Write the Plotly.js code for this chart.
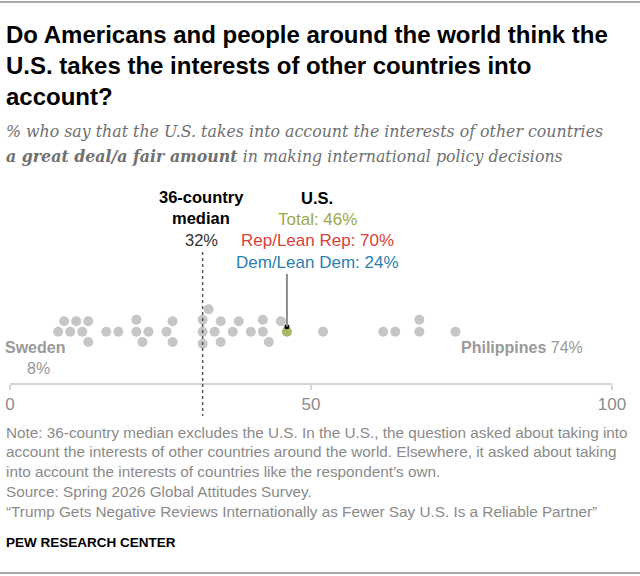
<!DOCTYPE html>
<html>
<head>
<meta charset="utf-8">
<script src="https://cdn.plot.ly/plotly-3.0.1.min.js"></script>
<style>
  body { margin: 0; background: #fff; }
  #chart { width: 640px; height: 576px; }
</style>
</head>
<body>
<div id="chart"></div>
<script>
// share saying the U.S. takes their interests into account, 36 countries
var countryValues = [8, 9, 10, 11, 12, 13, 13, 16, 18, 21, 21, 22, 23, 26, 27, 27,
                     32, 32, 32, 33, 34, 35, 35, 37, 38, 40, 42, 42, 43, 45,
                     52, 62, 64, 68, 68, 74];
var labelNames = ['Sweden', 'Philippines'];
var labelValues = [8, 74];
var usGroups = ['Total', 'Rep/Lean Rep', 'Dem/Lean Dem'];
var usValues = [46, 70, 24];
var tickValues = [0, 50, 100];

// pixel frame of the plot area
var plotLeft = 10, plotRight = 612, plotTop = 290, plotBottom = 383, baseY = 331.7;
var pxPerUnit = (plotRight - plotLeft) / 100;
function px(x) { return (x - plotLeft) / (plotRight - plotLeft); }
function py(y) { return (plotBottom - y) / (plotBottom - plotTop); }

function median(arr) {
    var s = arr.slice().sort(function(a, b) { return a - b; });
    var m = Math.floor(s.length / 2);
    return s.length % 2 ? s[m] : (s[m - 1] + s[m]) / 2;
}

// simple greedy beeswarm, offsets in pixels (up = positive)
function swarm(fixed, vals, d) {
    var placed = fixed.map(function(v) { return {x: v * pxPerUnit, y: 0}; });
    var order = vals.map(function(v, i) { return i; }).sort(function(a, b) { return vals[a] - vals[b]; });
    var ys = new Array(vals.length);
    for (var i of order) {
        var x = vals[i] * pxPerUnit;
        var near = placed.filter(function(p) { return Math.abs(p.x - x) < d; });
        var cands = [0];
        near.forEach(function(p) {
            var dy = Math.sqrt(d * d - (p.x - x) * (p.x - x));
            cands.push(p.y + dy, p.y - dy);
        });
        cands.sort(function(a, b) { return Math.abs(a) - Math.abs(b) || b - a; });
        var y = cands.find(function(c) {
            return near.every(function(p) { return (p.x - x) * (p.x - x) + (p.y - c) * (p.y - c) >= d * d - 1e-6; });
        });
        placed.push({x: x, y: y});
        ys[i] = y;
    }
    return ys;
}

var usTotal = usValues[0];
var med = median(countryValues);
var offsets = swarm([usTotal], countryValues, 12);

var grey = '#c6c6c6';
var labelFont = '"Liberation Sans", Arial, sans-serif';
var serifFont = '"DejaVu Serif", Georgia, serif';

var traces = [
    {
        x: countryValues, y: offsets, type: 'scatter', mode: 'markers',
        marker: {size: 10, color: grey}, hoverinfo: 'x'
    },
    {
        x: [usTotal], y: [0], type: 'scatter', mode: 'markers',
        marker: {size: 10, color: '#a9b567'}, hoverinfo: 'x'
    },
    {
        x: [usTotal], y: [5], type: 'scatter', mode: 'markers',
        marker: {size: 5, color: '#000'}, hoverinfo: 'skip'
    }
];

var yRange = [-(plotBottom - baseY), baseY - plotTop];
function yPaper(off) { return (off - yRange[0]) / (yRange[1] - yRange[0]); }

var shapes = [
    {type: 'line', xref: 'paper', yref: 'paper', x0: px(0), x1: px(640), y0: py(2), y1: py(2),
     line: {color: '#8a8a8a', width: 1.5}},
    {type: 'line', xref: 'paper', yref: 'paper', x0: px(0), x1: px(640), y0: py(573), y1: py(573),
     line: {color: '#8a8a8a', width: 1.5}},
    {type: 'line', xref: 'x', yref: 'paper', x0: med, x1: med, y0: py(252), y1: py(416),
     line: {color: '#555', width: 1.5, dash: 'dot'}},
    {type: 'line', xref: 'x', yref: 'paper', x0: usTotal, x1: usTotal, y0: py(274), y1: yPaper(5),
     line: {color: '#8c8c8c', width: 2}}
];

function ann(text, x, y, opts) {
    var a = {text: text, xref: 'paper', yref: 'paper', x: px(x), y: py(y), showarrow: false,
             xanchor: 'center', yanchor: 'middle', font: {family: labelFont, size: 16.5, color: '#000'}};
    for (var k in opts) a[k] = opts[k];
    return a;
}

var titleLines = ['Do Americans and people around the world think the',
                  'U.S. takes the interests of other countries into',
                  'account?'];
var noteLines = ['Note: ' + countryValues.length + '-country median excludes the U.S. In the U.S., the question asked about taking into',
                 'account the interests of other countries around the world. Elsewhere, it asked about taking',
                 'into account the interests of countries like the respondent\u2019s own.',
                 'Source: Spring 2026 Global Attitudes Survey.',
                 '\u201cTrump Gets Negative Reviews Internationally as Fewer Say U.S. Is a Reliable Partner\u201d'];
var groupColors = ['#9aa84a', '#d8403a', '#2a7fb0'];

var annotations = [];
titleLines.forEach(function(t, i) {
    annotations.push(ann('<b>' + t + '</b>', 4, 34 + i * 31.3,
        {xanchor: 'left', font: {family: labelFont, size: 24, color: '#000'}}));
});
annotations.push(ann('<i>% who say that the U.S. takes into account the interests of other countries</i>', 4, 131,
    {xanchor: 'left', font: {family: serifFont, size: 15.8, color: '#707070'}}));
annotations.push(ann('<i><b>a great deal/a fair amount</b> in making international policy decisions</i>', 4, 156,
    {xanchor: 'left', font: {family: serifFont, size: 15.8, color: '#707070'}}));

annotations.push(ann('<b>' + countryValues.length + '-country</b>', 201, 197));
annotations.push(ann('<b>median</b>', 201, 218));
annotations.push(ann(med + '%', 201, 240, {font: {family: labelFont, size: 16.5, color: '#333'}}));

annotations.push(ann('<b>U.S.</b>', 317, 198));
usGroups.forEach(function(g, i) {
    annotations.push(ann(g + ': ' + usValues[i] + '%', 317, 219 + i * 21.5,
        {font: {family: labelFont, size: 17, color: groupColors[i]}}));
});

annotations.push(ann('<b>' + labelNames[0] + '</b>', 35, 347, {font: {family: labelFont, size: 16, color: '#999'}}));
annotations.push(ann(labelValues[0] + '%', 38, 368, {font: {family: labelFont, size: 16, color: '#999'}}));
annotations.push(ann('<b>' + labelNames[1] + '</b> ' + labelValues[1] + '%', 459, 347,
    {xanchor: 'left', font: {family: labelFont, size: 16, color: '#999'}}));

noteLines.forEach(function(t, i) {
    annotations.push(ann(t, 4, 432 + i * 19.8,
        {xanchor: 'left', font: {family: labelFont, size: 15.3, color: '#8a8a8a'}}));
});
annotations.push(ann('<b>PEW RESEARCH CENTER</b>', 4, 542,
    {xanchor: 'left', font: {family: labelFont, size: 13.5, color: '#000'}}));

var layout = {
    width: 640, height: 576,
    margin: {l: plotLeft, r: 640 - plotRight, t: plotTop, b: 576 - plotBottom},
    paper_bgcolor: '#fff', plot_bgcolor: '#fff',
    showlegend: false,
    xaxis: {
        range: [0, 100], tickvals: tickValues, showgrid: false, zeroline: false,
        showline: true, linecolor: '#d6d6d6', linewidth: 1.5,
        ticks: 'outside', ticklen: 5, tickcolor: '#d6d6d6', tickwidth: 1.5,
        tickfont: {family: labelFont, size: 17, color: '#8c8c8c'}, fixedrange: true
    },
    yaxis: {range: yRange, visible: false, fixedrange: true},
    shapes: shapes,
    annotations: annotations
};

Plotly.newPlot('chart', traces, layout, {displayModeBar: false, staticPlot: true});
</script>
</body>
</html>
